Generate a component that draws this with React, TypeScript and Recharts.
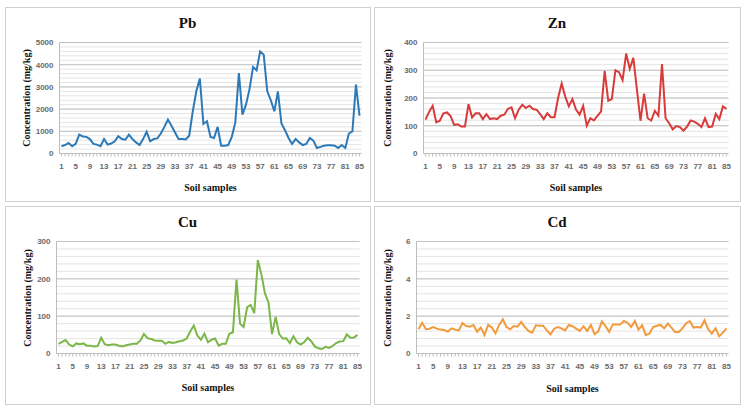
import { LineChart, Line, XAxis, YAxis, CartesianGrid, ReferenceLine } from "recharts";

// ─── Data ───────────────────────────────────────────────────
const SAMPLES = Array.from({ length: 85 }, (_, i) => i + 1);
const X_LABELS = [1, 5, 9, 13, 17, 21, 25, 29, 33, 37, 41, 45, 49, 53, 57, 61, 65, 69, 73, 77, 81, 85];

const PB = [
  330, 380, 470, 330, 430, 850, 770, 750, 650, 430,
  400, 330, 650, 400, 450, 550, 780, 650, 620, 850,
  650, 500, 380, 650, 980, 550, 650, 680, 900, 1200,
  1530, 1250, 950, 650, 650, 630, 800, 1900, 2800, 3380,
  1330, 1450, 750, 700, 1200, 350, 350, 380, 750, 1400,
  3620, 1750, 2200, 2900, 3900, 3750, 4600, 4450, 2800, 2400,
  1900, 2800, 1350, 1050, 700, 430, 650, 500, 380, 430,
  700, 580, 250, 300, 350, 370, 370, 350, 250, 380,
  250, 900, 1000, 3100, 1700,
];

const ZN = [
  122, 150, 172, 112, 118, 145, 148, 135, 103, 105,
  97, 97, 178, 130, 145, 145, 124, 142, 124, 127,
  124, 136, 140, 161, 166, 127, 158, 176, 164, 172,
  160, 158, 142, 124, 145, 131, 131, 200, 252, 205,
  170, 196, 158, 140, 172, 100, 127, 119, 136, 152,
  298, 190, 196, 300, 293, 264, 360, 305, 345, 230,
  118, 216, 127, 119, 154, 136, 322, 127, 109, 87,
  99, 95, 82, 97, 119, 115, 107, 95, 127, 95,
  97, 143, 124, 170, 161,
];

const CU = [
  26, 31, 36, 24, 19, 27, 25, 27, 21, 21,
  19, 20, 42, 25, 22, 24, 24, 21, 19, 22,
  24, 26, 26, 35, 52, 41, 39, 35, 34, 34,
  26, 31, 28, 30, 33, 35, 40, 59, 75, 48,
  37, 53, 30, 37, 40, 21, 26, 26, 53, 57,
  198, 80, 71, 124, 130, 108, 250, 212, 161, 136,
  52, 98, 52, 40, 41, 28, 46, 30, 24, 30,
  42, 33, 19, 14, 12, 18, 15, 20, 28, 32,
  33, 51, 42, 43, 50,
];

const CD = [
  1.3, 1.65, 1.3, 1.33, 1.42, 1.33, 1.28, 1.26, 1.17, 1.35,
  1.28, 1.24, 1.63, 1.47, 1.44, 1.53, 1.17, 1.39, 0.98, 1.53,
  1.39, 1.08, 1.53, 1.83, 1.42, 1.3, 1.47, 1.44, 1.69, 1.42,
  1.21, 1.12, 1.51, 1.49, 1.49, 1.24, 1.03, 1.33, 1.42, 1.35,
  1.24, 1.53, 1.46, 1.33, 1.21, 1.46, 1.21, 1.53, 1.03, 1.17,
  1.71, 1.47, 1.15, 1.56, 1.56, 1.56, 1.74, 1.65, 1.42, 1.74,
  1.28, 1.51, 0.98, 1.07, 1.42, 1.49, 1.53, 1.35, 1.6, 1.39,
  1.15, 1.15, 1.35, 1.62, 1.74, 1.39, 1.42, 1.39, 1.78, 1.3,
  1.07, 1.35, 0.92, 1.12, 1.35,
];

const PB_TICKS = [0, 1000, 2000, 3000, 4000, 5000];
const ZN_TICKS = [0, 100, 200, 300, 400];
const CU_TICKS = [0, 100, 200, 300];
const CD_TICKS = [0, 2, 4, 6];

// ─── Helpers ────────────────────────────────────────────────
// major ticks plus 4 minor gridlines in between, like Excel
function withMinor(majors: number[], parts = 5) {
  const out: number[] = [];
  for (let i = 0; i < majors.length - 1; i++) {
    const a = majors[i];
    const b = majors[i + 1];
    for (let k = 0; k < parts; k++) out.push(Number((a + ((b - a) * k) / parts).toFixed(4)));
  }
  out.push(majors[majors.length - 1]);
  return out;
}

const SERIF = "'Liberation Serif', 'Times New Roman', serif";
const SANS = "'Liberation Sans', Arial, sans-serif";
const BORDER = 1.5;

interface Rect { left: number; top: number; right: number; bottom: number }

interface PanelProps {
  title: string;
  values: number[];
  color: string;
  majors: number[];
  box: Rect;
  plot: Rect;
  yTitleX: number;
  titleY: number;
  xTitleY: number;
}

function Panel({ title, values, color, majors, box, plot, yTitleX, titleY, xTitleY }: PanelProps) {
  const data = SAMPLES.map((s, i) => ({ sample: s, value: values[i] }));
  const ticks = withMinor(majors);
  const w = box.right - box.left;
  const h = box.bottom - box.top;
  const ox = box.left + BORDER;
  const oy = box.top + BORDER;
  const innerW = w - 2 * BORDER;
  const innerH = h - 2 * BORDER;
  const ml = plot.left - ox;
  const mt = plot.top - oy;
  const mr = ox + innerW - plot.right;
  const mb = oy + innerH - plot.bottom;
  const tickStyle = { fontSize: 8, fill: "#6a6a6a", fontWeight: 700, fontFamily: SANS };
  const plotCx = (plot.left + plot.right) / 2 - ox;
  const plotCy = (plot.top + plot.bottom) / 2 - oy;

  return (
    <div
      style={{
        position: "absolute",
        left: box.left,
        top: box.top,
        width: w,
        height: h,
        boxSizing: "border-box",
        border: `${BORDER}px solid #d0d0d0`,
        background: "#fff",
      }}
    >
      <LineChart width={innerW} height={innerH} data={data} margin={{ top: mt, right: mr, bottom: 0, left: 0 }}>
        <CartesianGrid vertical={false} stroke="#e4e4e4" />
        <XAxis
          dataKey="sample"
          height={mb}
          interval={0}
          tickFormatter={(v: number) => (X_LABELS.includes(v) ? String(v) : "")}
          tick={tickStyle}
          tickSize={3}
          tickMargin={7}
          axisLine={{ stroke: "#bdbdbd" }}
          tickLine={{ stroke: "#bdbdbd" }}
          padding={{ left: 2, right: 2 }}
        />
        <YAxis
          width={ml}
          domain={[0, majors[majors.length - 1]]}
          ticks={ticks}
          interval={0}
          tickFormatter={(v: number) => (majors.includes(v) ? String(v) : "")}
          tick={tickStyle}
          tickSize={0}
          tickMargin={6}
          tickLine={false}
          axisLine={{ stroke: "#bdbdbd" }}
        />
        {majors.slice(1).map((m) => (
          <ReferenceLine key={m} y={m} stroke="#c2c2c2" />
        ))}
        <Line type="linear" dataKey="value" stroke={color} strokeWidth={2} dot={false} isAnimationActive={false} />
      </LineChart>

      <div
        style={{
          position: "absolute",
          left: w / 2 - BORDER,
          top: titleY - oy,
          transform: "translate(-50%, -50%)",
          fontFamily: SERIF,
          fontWeight: 700,
          fontSize: 15,
          color: "#111",
          whiteSpace: "nowrap",
        }}
      >
        {title}
      </div>
      <div
        style={{
          position: "absolute",
          left: plotCx,
          top: xTitleY - oy,
          transform: "translate(-50%, -50%)",
          fontFamily: SERIF,
          fontWeight: 700,
          fontSize: 10,
          color: "#111",
          whiteSpace: "nowrap",
        }}
      >
        Soil samples
      </div>
      <div
        style={{
          position: "absolute",
          left: yTitleX - ox,
          top: plotCy,
          transform: "translate(-50%, -50%) rotate(-90deg)",
          fontFamily: SERIF,
          fontWeight: 700,
          fontSize: 10,
          color: "#111",
          whiteSpace: "nowrap",
        }}
      >
        Concentration (mg/kg)
      </div>
    </div>
  );
}

export default function App() {
  return (
    <div style={{ position: "absolute", left: 0, top: 0, width: 745, height: 410, background: "#fff", overflow: "hidden" }}>
      <Panel
        title="Pb"
        values={PB}
        color="#2b79b8"
        majors={PB_TICKS}
        box={{ left: 5, top: 7, right: 371, bottom: 202 }}
        plot={{ left: 60, top: 43, right: 362, bottom: 154 }}
        yTitleX={26}
        titleY={23}
        xTitleY={187}
      />
      <Panel
        title="Zn"
        values={ZN}
        color="#d93b3b"
        majors={ZN_TICKS}
        box={{ left: 374, top: 7, right: 741, bottom: 202 }}
        plot={{ left: 424, top: 43, right: 729, bottom: 154 }}
        yTitleX={387}
        titleY={23}
        xTitleY={187}
      />
      <Panel
        title="Cu"
        values={CU}
        color="#7ab648"
        majors={CU_TICKS}
        box={{ left: 5, top: 206, right: 371, bottom: 405 }}
        plot={{ left: 57, top: 242, right: 360, bottom: 354 }}
        yTitleX={27}
        titleY={222}
        xTitleY={387}
      />
      <Panel
        title="Cd"
        values={CD}
        color="#f39a3c"
        majors={CD_TICKS}
        box={{ left: 374, top: 206, right: 741, bottom: 405 }}
        plot={{ left: 417, top: 242, right: 729, bottom: 354 }}
        yTitleX={387}
        titleY={222}
        xTitleY={388}
      />
    </div>
  );
}
